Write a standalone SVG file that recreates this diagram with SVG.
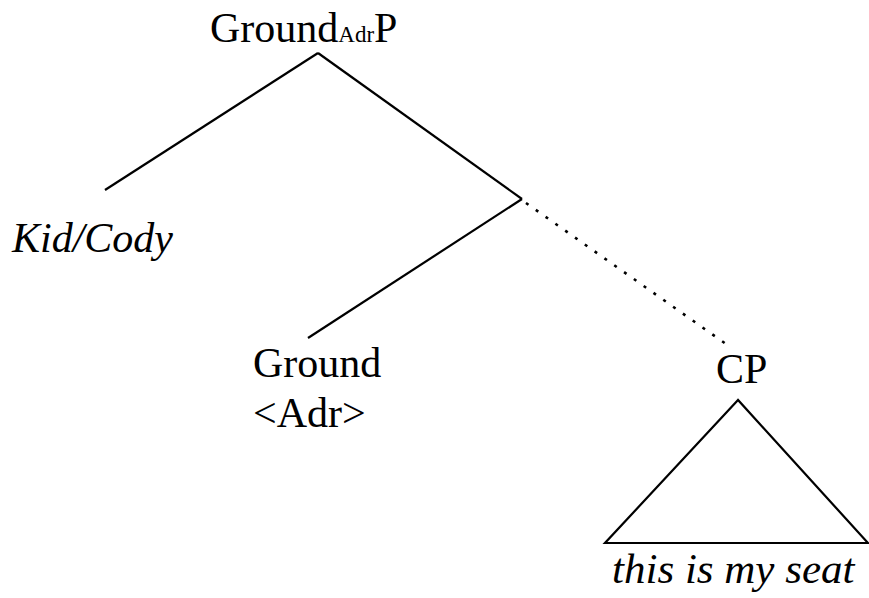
<svg xmlns="http://www.w3.org/2000/svg" width="869" height="598" viewBox="0 0 869 598">
<style>
text{font-family:"Liberation Serif","Times New Roman",serif;font-size:42px;fill:#000}
.it{font-style:italic}
.sub{font-size:23px}
.e{stroke:#000;stroke-width:2.2;fill:none}
.d{stroke-dasharray:3 9;stroke-width:2.6}
</style>
<rect width="869" height="598" fill="#fff"/>
<g id="connectors">
<line class="e" x1="318" y1="53" x2="105" y2="190"/>
<line class="e" x1="318" y1="53" x2="522" y2="199"/>
<line class="e" x1="522" y1="199" x2="308" y2="338"/>
<line class="e d" x1="526" y1="203" x2="726" y2="344"/>
</g>
<g id="root"><text x="210" y="42">Ground<tspan class="sub">Adr</tspan>P</text></g>
<g id="kid"><text class="it" x="12" y="252">Kid/Cody</text></g>
<g id="ground"><text x="253" y="377">Ground</text><text x="253" y="427">&lt;Adr&gt;</text></g>
<g id="cp"><text x="716" y="383">CP</text>
<polygon class="e" points="738,400 605,543 868,543"/></g>
<g id="clause"><text class="it" x="612" y="583" style="font-size:43px">this is my seat</text></g>
</svg>
